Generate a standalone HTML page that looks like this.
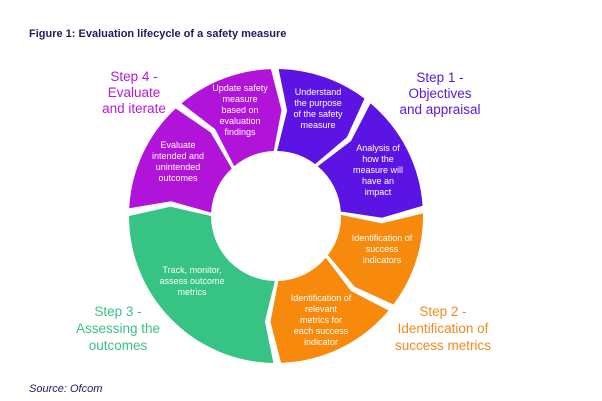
<!DOCTYPE html>
<html><head><meta charset="utf-8"><style>
html,body{margin:0;padding:0;background:#fff;}
body{width:602px;height:401px;overflow:hidden;}
svg{display:block;font-family:"Liberation Sans",sans-serif;}
.w{fill:#fff;font-size:9px;text-anchor:middle;}
.s{font-size:13.5px;text-anchor:middle;}
</style></head><body>
<svg id="g" width="602" height="401" viewBox="0 0 602 401">
<text x="29" y="37" font-size="11" font-weight="bold" fill="#1c1c5e">Figure 1: Evaluation lifecycle of a safety measure</text>
<g id="segs"></g>
<g class="w">
<text x="240" y="91">Update safety</text><text x="240" y="102">measure</text><text x="240" y="113">based on</text><text x="240" y="124">evaluation</text><text x="240" y="135">findings</text>
<text x="318" y="95">Understand</text><text x="318" y="106">the purpose</text><text x="318" y="117">of the safety</text><text x="318" y="128">measure</text>
<text x="378" y="151">Analysis of</text><text x="378" y="162">how the</text><text x="378" y="173">measure will</text><text x="378" y="184">have an</text><text x="378" y="195">impact</text>
<text x="382" y="241">Identification of</text><text x="382" y="252">success</text><text x="382" y="263">indicators</text>
<text x="321" y="301">Identification of</text><text x="321" y="312">relevant</text><text x="321" y="323">metrics for</text><text x="321" y="334">each success</text><text x="321" y="345">indicator</text>
<text x="192" y="273">Track, monitor,</text><text x="192" y="284">assess outcome</text><text x="192" y="295">metrics</text>
<text x="178" y="148">Evaluate</text><text x="178" y="159">intended and</text><text x="178" y="170">unintended</text><text x="178" y="181">outcomes</text>
</g>
<g class="s" fill="#5a18e0"><text x="440" y="82">Step 1 -</text><text x="440" y="98">Objectives</text><text x="440" y="114">and appraisal</text></g>
<g class="s" fill="#f08a1c"><text x="443" y="316">Step 2 -</text><text x="443" y="333">Identification of</text><text x="443" y="350">success metrics</text></g>
<g class="s" fill="#3cc088"><text x="118" y="316">Step 3 -</text><text x="118" y="333">Assessing the</text><text x="118" y="350">outcomes</text></g>
<g class="s" fill="#b51ad8"><text x="134" y="81">Step 4 -</text><text x="134" y="97">Evaluate</text><text x="134" y="113">and iterate</text></g>
<text x="29" y="392" font-size="11" font-style="italic" fill="#1c1c5e">Source: Ofcom</text>
</svg>
<script>
var cx=276,cy=216,R=147,r=65,m=(R+r)/2,t=5;
function p(a,rad){a=a*Math.PI/180;return (cx+rad*Math.sin(a)).toFixed(1)+","+(cy-rad*Math.cos(a)).toFixed(1);}
var S=[[320,358,"#b213d8"],[1,37,"#5b14e4"],[40,86,"#5b14e4"],[89,127,"#f7890c"],[130,178,"#f7890c"],[181,270,"#36c383"],[273,317,"#b213d8"]];
var h="";
S.forEach(function(s){var a=s[0],b=s[1];
var d="M"+p(a,R)+" A"+R+","+R+" 0 0 1 "+p(b,R)+" L"+p(b+t,m)+" L"+p(b,r)+" A"+r+","+r+" 0 0 0 "+p(a,r)+" L"+p(a+t,m)+"Z";
h+='<path d="'+d+'" fill="'+s[2]+'"/>';});
document.getElementById("segs").innerHTML=h;
</script>
</body></html>
